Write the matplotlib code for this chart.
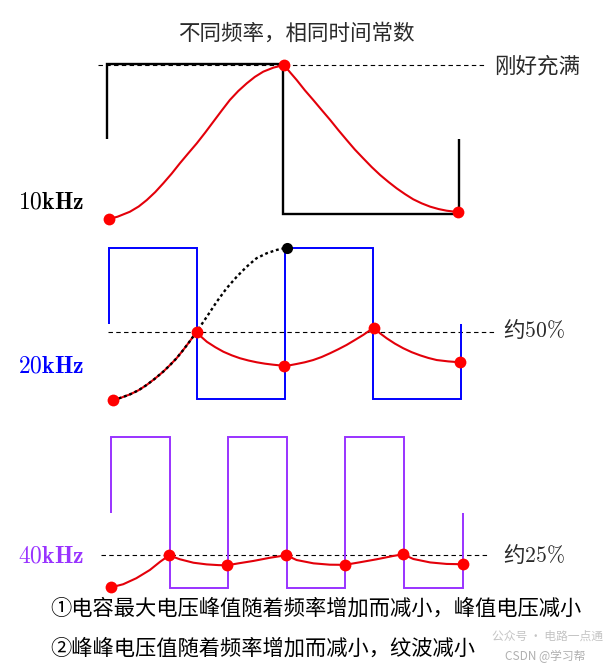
import matplotlib
matplotlib.use('Agg')
import matplotlib.pyplot as plt

plt.rcParams['mathtext.fontset'] = 'cm'
plt.rcParams['font.family'] = ['Noto Sans CJK SC', 'DejaVu Sans']

# ---------------- data (time in µs, voltage in % of full) ----------------
title = '不同频率，相同时间常数'
freq_labels = [r'$10\mathbf{kHz}$', r'$20\mathbf{kHz}$', r'$40\mathbf{kHz}$']
level_labels = ['刚好充满', '约$50\\%$', '约$25\\%$']
notes = ['①电容最大电压峰值随着频率增加而减小，峰值电压减小',
         '②峰峰电压值随着频率增加而减小，纹波减小']
watermarks = ['公众号 · 电路一点通', 'CSDN @学习帮']

# input square waves (edge times, levels)
sq1_t = [0, 0, 50, 50, 100, 100]
sq1_v = [50, 100, 100, 0, 0, 50]
sq2_t = [0, 0, 25, 25, 50, 50, 75, 75, 100, 100]
sq2_v = [50, 100, 100, 0, 0, 100, 100, 0, 0, 50]
sq3_t = [0, 0, 12.5, 12.5, 25, 25, 37.5, 37.5, 50, 50, 62.5, 62.5, 75, 75]
sq3_v = [50, 100, 100, 0, 0, 100, 100, 0, 0, 100, 100, 0, 0, 50]

# capacitor voltage, 10 kHz
cap1_t = [0.6, 3.0, 6.5, 9.0, 11.3, 13.7, 16.0, 18.4, 20.7, 23.1, 25.5, 27.9,
          30.2, 32.6, 34.9, 37.3, 39.7, 42.0, 44.4, 47.3, 50.3,
          52.1, 53.9, 56.2, 58.6, 61.0, 63.4, 65.7, 68.1, 70.4, 72.8, 75.2,
          77.6, 80.0, 82.3, 84.7, 87.0, 89.4, 91.8, 94.2, 96.5, 99.7]
cap1_v = [-3.3, -1.8, 1.5, 5.0, 9.3, 14.6, 20.5, 27.0, 33.8, 40.5, 47.1, 54.3,
          61.5, 69.0, 76.0, 82.0, 87.1, 91.4, 94.9, 97.6, 99.3,
          94.2, 89.3, 82.5, 76.0, 69.3, 62.7, 56.0, 49.3, 43.0, 37.1, 31.3,
          26.0, 21.3, 17.1, 13.2, 9.8, 7.1, 4.9, 3.3, 2.2, 1.3]
dot1_t = [0.6, 50.3, 99.7]
dot1_v = [-3.3, 99.3, 1.3]

# capacitor voltage, 20 kHz
cap2_t = [1.2, 3.6, 6.0, 8.4, 10.7, 13.0, 15.4, 17.3, 19.2, 21.1, 23.0, 24.9,
          26.3, 27.8, 30.2, 32.5, 34.9, 37.2, 39.6, 42.0, 44.3, 46.7, 49.7,
          51.5, 53.3, 55.6, 58.0, 60.4, 62.8, 65.1, 67.5, 69.8, 72.2, 75.2,
          77.0, 78.9, 81.2, 83.6, 86.0, 88.4, 90.7, 93.1, 96.4, 99.8]
cap2_v = [-0.7, 1.0, 3.1, 5.8, 9.3, 13.4, 18.1, 22.4, 27.0, 32.5, 38.4, 44.6,
          41.0, 37.9, 34.3, 31.3, 28.9, 27.0, 25.5, 24.3, 23.4, 22.7, 22.0,
          22.4, 23.2, 24.3, 25.8, 27.8, 30.3, 32.9, 35.8, 39.0, 42.4, 47.2,
          43.5, 40.2, 36.7, 33.6, 31.0, 28.9, 27.2, 25.8, 24.9, 24.3]
dot2_t = [1.2, 24.9, 49.7, 75.2, 99.8]
dot2_v = [-0.7, 44.6, 22.0, 47.2, 24.3]
# full-charge reference (dotted), 20 kHz
full2_t = [1.2, 3.6, 6.0, 8.4, 10.7, 13.0, 15.4, 17.3, 19.2, 21.1, 23.0, 24.9,
           27.8, 30.6, 33.4, 36.3, 39.1, 41.9, 44.8, 47.6, 50.5]
full2_v = [-0.7, 1.0, 3.1, 5.8, 9.3, 13.4, 18.1, 22.4, 27.0, 32.5, 38.4, 44.6,
           54.5, 64.4, 73.3, 81.0, 87.6, 93.2, 96.5, 98.7, 100.2]

# capacitor voltage, 40 kHz
cap3_t = [0.1, 2.6, 5.4, 8.3, 10.5, 12.4, 14.7, 17.6, 20.4, 23.0, 24.8,
          27.2, 30.4, 33.9, 37.4, 39.6, 43.2, 46.7, 49.9, 53.1, 56.7, 60.2,
          62.3, 64.5, 68.1, 71.6, 75.0]
cap3_v = [0.3, 2.3, 6.3, 11.8, 17.3, 21.5, 18.9, 16.6, 15.5, 15.0, 14.9,
          16.2, 17.8, 19.9, 21.6, 18.4, 16.2, 15.3, 15.2, 16.9, 18.9, 21.1,
          22.2, 19.1, 16.8, 15.8, 15.6]
dot3_t = [0.1, 12.4, 24.8, 37.4, 49.9, 62.3, 75.0]
dot3_v = [0.3, 21.5, 14.9, 21.6, 15.2, 22.2, 15.6]

ref_levels = [99.3, 44.6, 21.5]

# ---------------- layout ----------------
W, H = 609, 668
fig = plt.figure(figsize=(W / 100, H / 100), dpi=100)
fig.patch.set_facecolor('white')


def fx(px):
    return px / W


def fy(py):
    return 1 - py / H


def panel(xl, xr, ytop, ybot, tmax):
    ax = fig.add_axes([fx(xl), fy(ybot), (xr - xl) / W, (ybot - ytop) / H])
    ax.set_xlim(0, tmax)
    ax.set_ylim(0, 100)
    ax.axis('off')
    return ax


ax1 = panel(107, 459, 64, 214, 100)
ax2 = panel(109, 461, 248, 399, 100)
ax3 = panel(111, 462.5, 437.3, 587.7, 75)

RED = '#e3000a'
DOT = '#ff0000'
sq_colors = ['black', '#0000ff', '#9933ff']
sq_lw = [1.7, 1.4, 1.4]
dash_span = [(-2.6, 107.7), (-0.3, 109.4), (-2.1, 80.6)]

panels = [
    (ax1, sq1_t, sq1_v, cap1_t, cap1_v, dot1_t, dot1_v),
    (ax2, sq2_t, sq2_v, cap2_t, cap2_v, dot2_t, dot2_v),
    (ax3, sq3_t, sq3_v, cap3_t, cap3_v, dot3_t, dot3_v),
]

for i, (ax, st, sv, ct, cv, dt, dv) in enumerate(panels):
    ax.plot(dash_span[i], [ref_levels[i]] * 2, color='black', lw=0.8,
            ls=(0, (4, 3)), clip_on=False, zorder=2)
    ax.plot(st, sv, color=sq_colors[i], lw=sq_lw[i], clip_on=False,
            solid_joinstyle='miter', solid_capstyle='butt', zorder=3)
    ax.plot(ct, cv, color=RED, lw=1.5, clip_on=False, zorder=4,
            solid_joinstyle='round')
    ax.plot(dt, dv, 'o', color=DOT, ms=8.5, mec='none', clip_on=False,
            zorder=6)

ax2.plot(full2_t, full2_v, color='black', lw=1.7, ls=(0, (1.2, 1.2)),
         clip_on=False, zorder=5)
ax2.plot([full2_t[-1]], [full2_v[-1]], 'o', color='black', ms=8, mec='none',
         clip_on=False, zorder=6)

# ---------------- text ----------------
fig.text(fx(296), fy(34), title, ha='center', va='center', fontsize=15.5,
         color='#2a2a2a')

label_y = [202, 366, 556]
label_colors = ['black', '#0000ff', '#9933ff']
for lab, y, c in zip(freq_labels, label_y, label_colors):
    fig.text(fx(18), fy(y), lab, ha='left', va='center', fontsize=17,
             color=c)

level_x = [494, 503, 503]
level_y = [66, 330, 555]
for lab, x, y in zip(level_labels, level_x, level_y):
    fig.text(fx(x), fy(y), lab, ha='left', va='center', fontsize=15.5,
             color='#2a2a2a')

fig.text(fx(50), fy(609), notes[0], ha='left', va='center', fontsize=15.3,
         color='black')
fig.text(fx(50), fy(649), notes[1], ha='left', va='center', fontsize=15.3,
         color='black')

# watermark (kept clear of the notes)
fig.text(fx(492), fy(636), watermarks[0], ha='left', va='center',
         fontsize=8.5, color='#c4c4c4', zorder=0)
fig.text(fx(505), fy(657), watermarks[1], ha='left', va='center',
         fontsize=8.5, color='#b0b0b0', zorder=0)

fig.savefig('out.png', dpi=100, facecolor='white')
